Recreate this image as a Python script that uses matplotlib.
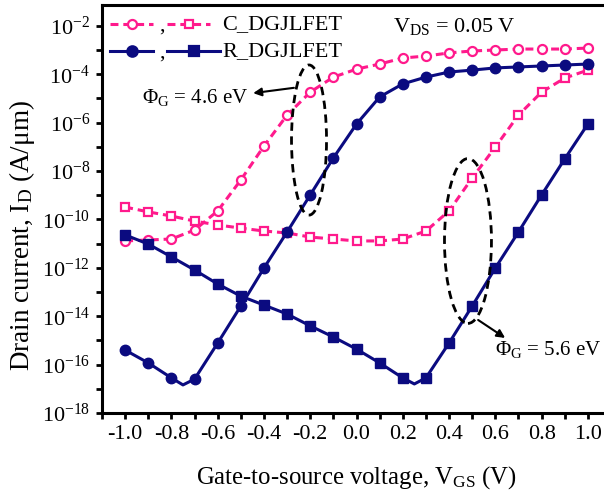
import numpy as np
import matplotlib
matplotlib.use('Agg')
import matplotlib.pyplot as plt
from matplotlib.patches import Ellipse
from matplotlib.lines import Line2D
from matplotlib.ticker import FixedLocator, FuncFormatter, NullFormatter, MultipleLocator, FormatStrFormatter

plt.rcParams['font.family'] = ['Liberation Serif', 'DejaVu Serif']
plt.rcParams['mathtext.fontset'] = 'custom'
plt.rcParams['mathtext.rm'] = 'Liberation Serif'
plt.rcParams['mathtext.it'] = 'Liberation Serif:italic'
plt.rcParams['mathtext.bf'] = 'Liberation Serif:bold'
plt.rcParams['axes.unicode_minus'] = False

# ---------------- data (log10 of drain current, A/um) ----------------
vgs = [-1.0, -0.9, -0.8, -0.7, -0.6, -0.5, -0.4, -0.3, -0.2, -0.1, 0.0,
       0.1, 0.2, 0.3, 0.4, 0.5, 0.6, 0.7, 0.8, 0.9, 1.0]

# C_DGJLFET, PhiG = 4.6 eV (open circles)
c46_log = [-10.89, -10.85, -10.81, -10.44, -9.65, -8.37, -6.97, -5.69, -4.74, -4.12, -3.79,
           -3.58, -3.33, -3.25, -3.12, -3.04, -3.00, -2.96, -2.96, -2.96, -2.92]
# C_DGJLFET, PhiG = 5.6 eV (open squares)
c56_log = [-9.49, -9.69, -9.86, -10.07, -10.23, -10.36, -10.48, -10.56, -10.73, -10.81, -10.89,
           -10.89, -10.81, -10.48, -9.65, -8.29, -7.01, -5.69, -4.74, -4.16, -3.83]
# R_DGJLFET, PhiG = 4.6 eV (filled circles); curve has a cusp at -0.75 V
r46_vgs = [-1.0, -0.9, -0.8, -0.75, -0.7, -0.6, -0.5, -0.4, -0.3, -0.2, -0.1, 0.0,
           0.1, 0.2, 0.3, 0.4, 0.5, 0.6, 0.7, 0.8, 0.9, 1.0]
r46_log = [-15.40, -15.93, -16.55, -16.84, -16.60, -15.11, -13.58, -12.01, -10.52, -8.99, -7.46, -6.06,
           -4.94, -4.40, -4.12, -3.91, -3.83, -3.74, -3.70, -3.66, -3.62, -3.58]
# R_DGJLFET, PhiG = 5.6 eV (filled squares); curve has a cusp at 0.25 V
r56_vgs = [-1.0, -0.9, -0.8, -0.7, -0.6, -0.5, -0.4, -0.3, -0.2, -0.1, 0.0,
           0.1, 0.2, 0.25, 0.3, 0.4, 0.5, 0.6, 0.7, 0.8, 0.9, 1.0]
r56_log = [-10.64, -11.02, -11.55, -12.09, -12.67, -13.17, -13.54, -13.91, -14.40, -14.86, -15.36,
           -15.93, -16.55, -16.80, -16.55, -15.11, -13.58, -12.01, -10.52, -8.99, -7.50, -6.06]

cusps = [-0.75, 0.25]
xticks = [-1.0, -0.8, -0.6, -0.4, -0.2, 0.0, 0.2, 0.4, 0.6, 0.8, 1.0]
ytick_exp = [-18, -16, -14, -12, -10, -8, -6, -4, -2]

PINK = '#FF1A8C'
NAVY = '#0B0B80'

fig = plt.figure(figsize=(6.04, 4.95), dpi=100)
ax = fig.add_axes([102/604, 82/495, 509/604, 408/495])

dash = (0, (2.6, 1.6))
ax.plot(vgs, np.power(10.0, c46_log), color=PINK, lw=2.2, ls=dash, marker='o', ms=6.5,
        mfc='white', mec=PINK, mew=1.6, zorder=2)
ax.plot(vgs, np.power(10.0, c56_log), color=PINK, lw=2.2, ls=dash, marker='s', ms=6.0,
        mfc='white', mec=PINK, mew=1.6, zorder=2)
me46 = [i for i, v in enumerate(r46_vgs) if v not in cusps]
me56 = [i for i, v in enumerate(r56_vgs) if v not in cusps]
ax.plot(r46_vgs, np.power(10.0, r46_log), color=NAVY, lw=2.2, marker='o', ms=7.5,
        mfc=NAVY, mec=NAVY, markevery=me46, zorder=3)
ax.plot(r56_vgs, np.power(10.0, r56_log), color=NAVY, lw=2.2, marker='s', ms=7.0,
        mfc=NAVY, mec=NAVY, markevery=me56, zorder=3)

ax.set_yscale('log')
ax.set_xlim(-1.1, 1.1)
ax.set_ylim(1e-18, 10 ** -1.14)

ax.xaxis.set_major_locator(FixedLocator(xticks))
ax.xaxis.set_major_formatter(FormatStrFormatter('%.1f'))
ax.xaxis.set_minor_locator(MultipleLocator(0.1))
ax.yaxis.set_major_locator(FixedLocator([10.0 ** e for e in ytick_exp]))
ax.yaxis.set_major_formatter(FuncFormatter(lambda v, p: r'10$^{\mathregular{%d}}$' % int(round(np.log10(v)))))
ax.yaxis.set_minor_locator(FixedLocator([10.0 ** e for e in range(-17, -1, 2)]))
ax.yaxis.set_minor_formatter(NullFormatter())

for s in ax.spines.values():
    s.set_linewidth(2.2)
ax.tick_params(which='both', direction='out', top=False, right=False, width=2.0)
ax.tick_params(which='major', length=4.5, pad=4, labelsize=16)
ax.tick_params(which='minor', length=4.0)

ax.set_xlabel('Gate-to-source voltage, V$_{\\mathrm{GS}}$ (V)', fontsize=17.8)
ax.set_ylabel('Drain current, I$_{\\mathrm{D}}$ (A/μm)', fontsize=19.5)
ax.xaxis.set_label_coords(0.5, -0.125)
ax.yaxis.set_label_coords(-0.128, 0.435)

# ---------------- legend (manual) ----------------
def sample(x0, x1, y, color, ls, marker, mfc, ms):
    ln = Line2D([x0, (x0 + x1) / 2, x1], [y, y, y], transform=ax.transAxes, color=color,
                lw=2.2, ls=ls, marker=marker, mfc=mfc, mec=color, mew=1.6, ms=ms,
                markevery=[1], clip_on=False)
    ax.add_line(ln)

y1, y2 = 0.953, 0.887
sample(0.016, 0.100, y1, PINK, dash, 'o', 'white', 6.5)
sample(0.128, 0.212, y1, PINK, dash, 's', 'white', 6.0)
sample(0.016, 0.100, y2, NAVY, '-', 'o', NAVY, 7.5)
sample(0.128, 0.232, y2, NAVY, '-', 's', NAVY, 7.0)
ax.text(0.113, y1 - 0.005, ',', transform=ax.transAxes, fontsize=16, va='center')
ax.text(0.113, y2 - 0.005, ',', transform=ax.transAxes, fontsize=16, va='center')
ax.text(0.236, y1, 'C_DGJLFET', transform=ax.transAxes, fontsize=16, va='center')
ax.text(0.236, y2, 'R_DGJLFET', transform=ax.transAxes, fontsize=16, va='center')

ax.text(0.572, 0.934, 'V$_{\\mathrm{DS}}$ = 0.05 V', transform=ax.transAxes, fontsize=16,
        va='baseline', ha='left')

# ---------------- annotations ----------------
e1 = Ellipse((0.4067, 0.669), 0.0688, 0.368, transform=ax.transAxes, fill=False,
             ls=(0, (3, 2)), lw=2.0, ec='black', zorder=4)
e2 = Ellipse((0.719, 0.4216), 0.0923, 0.404, transform=ax.transAxes, fill=False,
             ls=(0, (3, 2)), lw=2.0, ec='black', zorder=4)
ax.add_patch(e1)
ax.add_patch(e2)
ax.annotate('', xy=(0.297, 0.784), xytext=(0.377, 0.797), xycoords='axes fraction',
            arrowprops=dict(arrowstyle='-|>', color='black', lw=1.5, mutation_scale=12,
                            shrinkA=0, shrinkB=0))
ax.annotate('', xy=(0.792, 0.184), xytext=(0.739, 0.228), xycoords='axes fraction',
            arrowprops=dict(arrowstyle='-|>', color='black', lw=1.5, mutation_scale=12,
                            shrinkA=0, shrinkB=0))
ax.text(0.287, 0.760, 'Φ$_{\\mathrm{G}}$ = 4.6 eV', transform=ax.transAxes, fontsize=15,
        ha='right', va='baseline')
ax.text(0.772, 0.142, 'Φ$_{\\mathrm{G}}$ = 5.6 eV', transform=ax.transAxes, fontsize=15,
        ha='left', va='baseline')

fig.savefig('out.png', dpi=100)
